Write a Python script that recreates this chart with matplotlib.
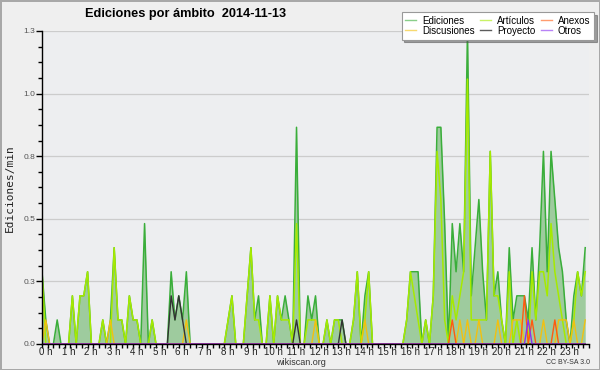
import matplotlib.pyplot as plt
import matplotlib.transforms as mtransforms
from matplotlib.lines import Line2D
from matplotlib.ticker import AutoMinorLocator, MultipleLocator, FormatStrFormatter
import numpy as np

plt.rcParams['font.family'] = ['Liberation Sans', 'DejaVu Sans']

# edits per 10-minute bin (6 bins per hour), two hours per row
ediciones = [3, 1, 0, 0, 1, 0,  0, 0, 2, 0, 2, 2,
             3, 0, 0, 0, 1, 0,  1, 4, 1, 1, 0, 2,
             1, 1, 0, 5, 0, 1,  0, 0, 0, 0, 3, 1,
             2, 1, 3, 0, 0, 0,  0, 0, 0, 0, 0, 0,
             0, 1, 2, 0, 0, 0,  2, 4, 1, 2, 0, 0,
             2, 0, 2, 1, 2, 1,  0, 9, 0, 0, 2, 1,
             2, 0, 0, 1, 0, 1,  1, 1, 0, 0, 1, 3,
             0, 2, 3, 0, 0, 0,  0, 0, 0, 0, 0, 0,
             1, 3, 3, 3, 0, 1,  0, 2, 9, 9, 5, 0,
             5, 3, 5, 3, 13, 2, 4, 6, 3, 1, 8, 2,
             3, 1, 0, 4, 1, 2,  2, 2, 1, 4, 1, 4,
             8, 3, 8, 6, 4, 3,  1, 0, 2, 3, 2, 4]

articulos = [3, 0, 0, 0, 0, 0,  0, 0, 2, 0, 2, 2,
             3, 0, 0, 0, 1, 0,  0, 4, 1, 1, 0, 2,
             1, 1, 0, 0, 0, 1,  0, 0, 0, 0, 0, 0,
             0, 0, 0, 0, 0, 0,  0, 0, 0, 0, 0, 0,
             0, 1, 2, 0, 0, 0,  2, 4, 1, 1, 0, 0,
             2, 0, 2, 1, 1, 1,  0, 5, 0, 0, 1, 1,
             1, 0, 0, 1, 0, 1,  1, 0, 0, 0, 1, 3,
             0, 1, 3, 0, 0, 0,  0, 0, 0, 0, 0, 0,
             1, 3, 2, 1, 0, 1,  0, 2, 8, 6, 1, 0,
             2, 1, 2, 3, 11, 1, 1, 1, 1, 1, 8, 2,
             2, 1, 0, 3, 0, 1,  0, 0, 0, 3, 1, 3,
             3, 2, 5, 3, 2, 1,  0, 0, 1, 3, 2, 3]

discusiones = [0, 1, 0, 0, 0, 0,  0, 0, 0, 0, 0, 0,
               0, 0, 0, 0, 0, 0,  1, 0, 0, 0, 0, 0,
               0, 0, 0, 0, 0, 0,  0, 0, 0, 0, 0, 0,
               0, 0, 1, 0, 0, 0,  0, 0, 0, 0, 0, 0,
               0, 0, 0, 0, 0, 0,  0, 0, 0, 0, 0, 0,
               0, 0, 0, 0, 0, 0,  0, 0, 0, 0, 0, 0,
               1, 0, 0, 0, 0, 0,  0, 0, 0, 0, 0, 0,
               0, 1, 0, 0, 0, 0,  0, 0, 0, 0, 0, 0,
               0, 0, 0, 0, 0, 0,  0, 0, 0, 0, 0, 0,
               0, 0, 1, 0, 1, 0,  0, 1, 0, 0, 0, 0,
               1, 0, 0, 0, 1, 1,  1, 0, 0, 0, 0, 0,
               1, 0, 0, 0, 1, 1,  1, 0, 1, 0, 0, 1]

proyecto = [0, 0, 0, 0, 0, 0,  0, 0, 0, 0, 0, 0,
            0, 0, 0, 0, 0, 0,  0, 0, 0, 0, 0, 0,
            0, 0, 0, 0, 0, 0,  0, 0, 0, 0, 2, 1,
            2, 1, 0, 0, 0, 0,  0, 0, 0, 0, 0, 0,
            0, 0, 0, 0, 0, 0,  0, 0, 0, 0, 0, 0,
            0, 0, 0, 0, 0, 0,  0, 1, 0, 0, 0, 0,
            0, 0, 0, 0, 0, 0,  0, 1, 0, 0, 0, 0,
            0, 0, 0, 0, 0, 0,  0, 0, 0, 0, 0, 0,
            0, 0, 0, 0, 0, 0,  0, 0, 0, 0, 0, 0,
            0, 0, 0, 0, 0, 0,  0, 0, 0, 0, 0, 0,
            0, 0, 0, 0, 0, 0,  0, 0, 0, 0, 0, 0,
            0, 0, 0, 0, 0, 0,  0, 0, 0, 0, 0, 0]

anexos = [0, 0, 0, 0, 0, 0,  0, 0, 0, 0, 0, 0,
          0, 0, 0, 0, 0, 0,  0, 0, 0, 0, 0, 0,
          0, 0, 0, 0, 0, 0,  0, 0, 0, 0, 0, 0,
          0, 0, 0, 0, 0, 0,  0, 0, 0, 0, 0, 0,
          0, 0, 0, 0, 0, 0,  0, 0, 0, 0, 0, 0,
          0, 0, 0, 0, 0, 0,  0, 0, 0, 0, 0, 0,
          0, 0, 0, 0, 0, 0,  0, 0, 0, 0, 0, 0,
          0, 0, 0, 0, 0, 0,  0, 0, 0, 0, 0, 0,
          0, 0, 0, 0, 0, 0,  0, 0, 0, 0, 0, 0,
          1, 0, 0, 0, 0, 0,  0, 0, 0, 0, 0, 0,
          0, 0, 0, 0, 0, 0,  0, 2, 0, 1, 0, 0,
          0, 0, 0, 1, 0, 0,  0, 0, 0, 0, 0, 0]

otros = [0, 0, 0, 0, 0, 0,  0, 0, 0, 0, 0, 0,
         0, 0, 0, 0, 0, 0,  0, 0, 0, 0, 0, 0,
         0, 0, 0, 0, 0, 0,  0, 0, 0, 0, 0, 0,
         0, 0, 0, 0, 0, 0,  0, 0, 0, 0, 0, 0,
         0, 0, 0, 0, 0, 0,  0, 0, 0, 0, 0, 0,
         0, 0, 0, 0, 0, 0,  0, 0, 0, 0, 0, 0,
         0, 0, 0, 0, 0, 0,  0, 0, 0, 0, 0, 0,
         0, 0, 0, 0, 0, 0,  0, 0, 0, 0, 0, 0,
         0, 0, 0, 0, 0, 0,  0, 0, 0, 0, 0, 0,
         0, 0, 0, 0, 0, 0,  0, 0, 0, 0, 0, 0,
         0, 0, 0, 0, 0, 0,  0, 0, 1, 0, 0, 0,
         0, 0, 0, 0, 0, 0,  0, 0, 0, 0, 0, 0]

hour_labels = ['%d h' % h for h in range(24)]

## colours
c_total = '#3aae3a'
c_fill = '#9ecb9e'
c_art = '#a6ea00'
c_disc = '#f2c010'
c_proy = '#333333'
c_anex = '#ff5a10'
c_otros = '#8a30f0'

x = np.arange(len(ediciones)) / 6.0
# 10 minute bins -> edits per minute
def rate(v):
    return np.array(v, dtype=float) / 10.0

fig = plt.figure(figsize=(6, 3.7), dpi=100)
fig.patch.set_facecolor('#efefef')
fig.patch.set_edgecolor('#a8a8a8')
fig.patch.set_linewidth(2)

ax = fig.add_axes([0.07, 0.0703, 0.9117, 0.846])
ax.set_facecolor('#edeef0')

ax.fill_between(x, 0, rate(ediciones), color=c_fill, lw=0, zorder=1)
ax.plot(x, rate(ediciones), color=c_total, lw=1.1, zorder=2)
ax.plot(x, rate(articulos), color=c_art, lw=1.1, zorder=2.1)
ax.plot(x, rate(discusiones), color=c_disc, lw=1.0, zorder=2.2)
ax.plot(x, rate(proyecto), color=c_proy, lw=1.0, zorder=2.3)
ax.plot(x, rate(anexos), color=c_anex, lw=1.0, zorder=2.4)
ax.plot(x, rate(otros), color=c_otros, lw=1.0, zorder=2.4)

ax.set_xlim(0, 24)
ax.set_ylim(0, 1.3)

ax.set_yticks(np.linspace(0, 1.3, 6))
ax.yaxis.set_major_formatter(FormatStrFormatter('%.1f'))
ax.yaxis.set_minor_locator(AutoMinorLocator(4))
ax.set_xticks(range(24))
ax.set_xticklabels(hour_labels)
ax.xaxis.set_minor_locator(MultipleLocator(0.25))

ax.tick_params(axis='y', which='major', length=4, width=1, labelsize=6, labelcolor='#555555', pad=1)
ax.tick_params(axis='y', which='minor', length=3, width=1)
ax.tick_params(axis='x', which='both', length=3, width=1, labelsize=7, labelcolor='#222222', pad=0)

offset = mtransforms.ScaledTranslation(0.035, 0.01, fig.dpi_scale_trans)
for lab in ax.get_xticklabels():
    lab.set_transform(lab.get_transform() + offset)

ax.yaxis.grid(True, color='#cccccc', lw=0.9)
ax.set_axisbelow(True)
for s in ['top', 'right']:
    ax.spines[s].set_visible(False)
ax.spines['left'].set_linewidth(1)
ax.spines['bottom'].set_linewidth(1)

fig.text(0.142, 0.962, 'Ediciones por ámbito  2014-11-13', fontsize=9.2,
         fontweight='bold', va='center', ha='left')
fig.text(0.016, 0.492, 'Ediciones/min', rotation=90, fontsize=8,
         family='DejaVu Sans Mono', va='center', ha='center', color='#222222')
fig.text(0.501, 0.019, 'wikiscan.org', fontsize=6.5, ha='center', va='center', color='#333333')
fig.text(0.983, 0.021, 'CC BY-SA 3.0', fontsize=5, ha='right', va='center', color='#333333')

handles = [Line2D([], [], color=c_total, lw=1, alpha=0.6),
           Line2D([], [], color=c_disc, lw=1, alpha=0.6),
           Line2D([], [], color=c_art, lw=1, alpha=0.6),
           Line2D([], [], color=c_proy, lw=1, alpha=0.8),
           Line2D([], [], color=c_anex, lw=1, alpha=0.6),
           Line2D([], [], color=c_otros, lw=1, alpha=0.6)]
labels = ['Ediciones', 'Discusiones', 'Artículos', 'Proyecto', 'Anexos', 'Otros']
leg = fig.legend(handles, labels, ncol=3, loc='upper right', bbox_to_anchor=(0.99, 0.968),
                 borderaxespad=0, fontsize=7, frameon=True, fancybox=False, shadow=True,
                 framealpha=1, edgecolor='#999999', facecolor='white', handlelength=1.1,
                 handletextpad=0.6, columnspacing=0.6, labelspacing=0.0, borderpad=0.4)
leg.get_frame().set_linewidth(0.8)

plt.savefig('out.png', dpi=100, facecolor=fig.get_facecolor(), edgecolor=fig.get_edgecolor())
